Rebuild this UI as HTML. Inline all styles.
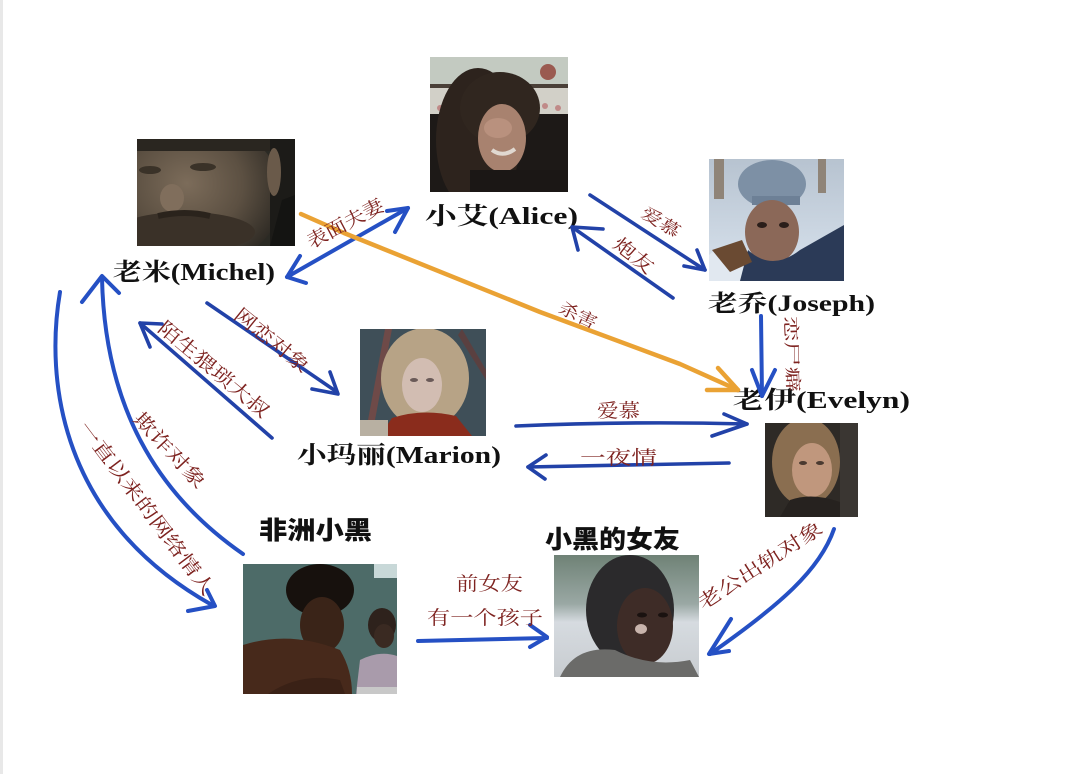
<!DOCTYPE html>
<html><head><meta charset="utf-8">
<style>
html,body{margin:0;padding:0;background:#fff;}
body{width:1080px;height:774px;overflow:hidden;}
svg{display:block;}
.nm{font-family:"Liberation Serif","Noto Serif CJK SC",serif;font-weight:bold;fill:#111;}
.ns{font-family:"Noto Sans CJK SC","WenQuanYi Zen Hei",sans-serif;font-weight:900;fill:#111;}
.rl{font-family:"Noto Serif CJK SC","Liberation Serif",serif;fill:#7e2320;}
.bl{fill:none;stroke:#2550c4;stroke-width:4;stroke-linecap:round;stroke-linejoin:round;}
.bd{fill:none;stroke:#2242a8;stroke-width:3.6;stroke-linecap:round;stroke-linejoin:round;}
.or{fill:none;stroke:#eaa234;stroke-width:4.5;stroke-linecap:round;stroke-linejoin:round;}
</style></head>
<body>
<svg width="1080" height="774" viewBox="0 0 1080 774" xmlns="http://www.w3.org/2000/svg">
<defs>
<clipPath id="cA"><rect x="430" y="57" width="138" height="135"/></clipPath>
<clipPath id="cM"><rect x="137" y="139" width="158" height="107"/></clipPath>
<clipPath id="cJ"><rect x="709" y="159" width="135" height="122"/></clipPath>
<clipPath id="cR"><rect x="360" y="329" width="126" height="107"/></clipPath>
<clipPath id="cE"><rect x="765" y="423" width="93" height="94"/></clipPath>
<clipPath id="cB"><rect x="243" y="564" width="154" height="130"/></clipPath>
<clipPath id="cG"><rect x="554" y="555" width="145" height="122"/></clipPath>
<radialGradient id="gMf" cx="0.42" cy="0.42" r="0.62"><stop offset="0" stop-color="#7c6c5a"/><stop offset="0.55" stop-color="#5c5042"/><stop offset="1" stop-color="#2e2a24"/></radialGradient>
<linearGradient id="gJbg" x1="0" y1="0" x2="0" y2="1"><stop offset="0" stop-color="#b7c3d0"/><stop offset="1" stop-color="#d9e3ee"/></linearGradient>
<linearGradient id="gGbg" x1="0" y1="0" x2="0" y2="1"><stop offset="0" stop-color="#6f8276"/><stop offset="0.4" stop-color="#9aa8a4"/><stop offset="0.55" stop-color="#d6dbe0"/><stop offset="1" stop-color="#c8ccd0"/></linearGradient>
</defs>
<rect x="0" y="0" width="1080" height="774" fill="#fff"/>
<rect x="0" y="0" width="3" height="774" fill="#e8e8e8"/>

<!-- Alice photo -->
<g clip-path="url(#cA)">
<rect x="430" y="57" width="138" height="135" fill="#1d1917"/>
<rect x="430" y="57" width="138" height="27" fill="#c3cac1"/>
<rect x="430" y="84" width="138" height="4" fill="#4a4038"/>
<rect x="430" y="88" width="138" height="26" fill="#d2d0c8"/>
<circle cx="548" cy="72" r="8" fill="#9a5a50"/>
<circle cx="545" cy="106" r="3" fill="#c08a88"/><circle cx="532" cy="108" r="3" fill="#c08a88"/><circle cx="558" cy="108" r="3" fill="#c08a88"/><circle cx="440" cy="108" r="3" fill="#c08a88"/>
<ellipse cx="478" cy="140" rx="42" ry="72" fill="#2d231d"/>
<ellipse cx="500" cy="108" rx="40" ry="36" fill="#30261f"/>
<ellipse cx="502" cy="138" rx="24" ry="34" fill="#a8826f"/>
<ellipse cx="498" cy="128" rx="14" ry="10" fill="#b9917e"/>
<path d="M492 150 Q503 158 515 149" stroke="#e0d8d0" stroke-width="4" fill="none"/>
<rect x="470" y="170" width="98" height="22" fill="#1b1715"/>
</g>

<!-- Michel photo -->
<g clip-path="url(#cM)">
<rect x="137" y="139" width="158" height="107" fill="#2b2a24"/>
<ellipse cx="200" cy="195" rx="82" ry="72" fill="url(#gMf)"/>
<rect x="137" y="139" width="150" height="12" fill="#2a2620"/>
<ellipse cx="150" cy="170" rx="11" ry="4" fill="#3a3228"/>
<ellipse cx="203" cy="167" rx="13" ry="4" fill="#3a3228"/>
<ellipse cx="172" cy="198" rx="12" ry="14" fill="#806e5c"/>
<ellipse cx="185" cy="232" rx="70" ry="20" fill="#3a3128"/>
<path d="M158 216 Q185 210 210 216" stroke="#2a231c" stroke-width="6" fill="none"/>
<rect x="270" y="139" width="25" height="107" fill="#1c1b18"/>
<ellipse cx="274" cy="172" rx="7" ry="24" fill="#6a5a4a"/>
<path d="M270 246 L282 200 L295 195 L295 246 Z" fill="#141412"/>
</g>

<!-- Joseph photo -->
<g clip-path="url(#cJ)">
<rect x="709" y="159" width="135" height="122" fill="url(#gJbg)"/>
<rect x="714" y="159" width="10" height="40" fill="#8f8478"/>
<rect x="818" y="159" width="8" height="34" fill="#8f8478"/>
<ellipse cx="772" cy="184" rx="34" ry="24" fill="#7d90a5"/>
<rect x="752" y="196" width="48" height="9" fill="#6d8096"/>
<ellipse cx="772" cy="232" rx="27" ry="32" fill="#8b6858"/>
<ellipse cx="762" cy="225" rx="5" ry="3" fill="#2a1e1a"/><ellipse cx="784" cy="225" rx="5" ry="3" fill="#2a1e1a"/>
<path d="M730 281 L748 250 Q772 272 800 250 L844 225 L844 281 Z" fill="#2b3a57"/>
<path d="M709 281 L709 255 Q725 240 748 250 L740 281 Z" fill="#e1e8f0"/>
<path d="M712 250 L742 240 L752 262 L730 272 Z" fill="#6a4a32"/>
</g>

<!-- Marion photo -->
<g clip-path="url(#cR)">
<rect x="360" y="329" width="126" height="107" fill="#3f4f58"/>
<path d="M365 436 L385 329 L392 329 L372 436 Z" fill="#6e4a48"/>
<path d="M462 329 L486 370 L486 380 L458 335 Z" fill="#5a4040"/>
<ellipse cx="425" cy="378" rx="44" ry="50" fill="#b7a386"/>
<ellipse cx="422" cy="385" rx="20" ry="27" fill="#d2bdb2"/>
<ellipse cx="414" cy="380" rx="4" ry="2" fill="#6a5a58"/><ellipse cx="430" cy="380" rx="4" ry="2" fill="#6a5a58"/>
<path d="M380 436 L392 418 Q422 408 456 416 L472 436 Z" fill="#8a2c1c"/>
<rect x="360" y="420" width="28" height="16" fill="#b8b0a2"/>
</g>

<!-- Evelyn photo -->
<g clip-path="url(#cE)">
<rect x="765" y="423" width="93" height="94" fill="#2e2a26"/>
<ellipse cx="806" cy="462" rx="34" ry="44" fill="#8a6e50"/>
<ellipse cx="812" cy="470" rx="20" ry="27" fill="#c0977d"/>
<ellipse cx="803" cy="463" rx="4" ry="2" fill="#4a3a30"/><ellipse cx="820" cy="463" rx="4" ry="2" fill="#4a3a30"/>
<path d="M780 517 L790 500 Q812 492 840 502 L850 517 Z" fill="#26221f"/>
<rect x="840" y="423" width="18" height="94" fill="#3a3632"/>
</g>

<!-- Black guy photo -->
<g clip-path="url(#cB)">
<rect x="243" y="564" width="154" height="130" fill="#4d6b68"/>
<rect x="374" y="564" width="23" height="14" fill="#c8d8d8"/>
<ellipse cx="320" cy="590" rx="34" ry="26" fill="#17110d"/>
<ellipse cx="322" cy="625" rx="22" ry="28" fill="#3a2418"/>
<path d="M243 694 L243 645 Q290 630 340 650 Q352 670 352 694 Z" fill="#47291b"/>
<path d="M268 694 Q300 672 340 680 L345 694 Z" fill="#3a2116"/>
<ellipse cx="382" cy="625" rx="14" ry="17" fill="#2e221c"/>
<ellipse cx="384" cy="636" rx="10" ry="12" fill="#3a2a22"/>
<path d="M356 694 L360 660 Q380 650 397 656 L397 694 Z" fill="#a99bab"/>
<rect x="357" y="687" width="40" height="7" fill="#c8c8c8"/>
</g>

<!-- Girlfriend photo -->
<g clip-path="url(#cG)">
<rect x="554" y="555" width="145" height="122" fill="url(#gGbg)"/>
<ellipse cx="630" cy="610" rx="44" ry="55" fill="#2b2a2c"/>
<ellipse cx="645" cy="626" rx="28" ry="38" fill="#3e2c27"/>
<ellipse cx="642" cy="615" rx="5" ry="2.5" fill="#1a1210"/><ellipse cx="663" cy="615" rx="5" ry="2.5" fill="#1a1210"/>
<ellipse cx="641" cy="629" rx="6" ry="5" fill="#c8b4ac"/>
<path d="M560 677 Q575 645 615 650 Q650 668 690 660 L699 677 Z" fill="#6b6b69"/>
</g>

<!-- Name labels -->
<text class="nm" x="113" y="280" font-size="24" textLength="162" lengthAdjust="spacingAndGlyphs">老米(Michel)</text>
<text class="nm" x="425" y="224" font-size="24" textLength="153" lengthAdjust="spacingAndGlyphs">小艾(Alice)</text>
<text class="nm" x="708" y="311" font-size="23" textLength="167" lengthAdjust="spacingAndGlyphs">老乔(Joseph)</text>
<text class="nm" x="733" y="408" font-size="24" textLength="177" lengthAdjust="spacingAndGlyphs">老伊(Evelyn)</text>
<text class="nm" x="297" y="463" font-size="24" textLength="204" lengthAdjust="spacingAndGlyphs">小玛丽(Marion)</text>
<text class="ns" x="259" y="539" font-size="25" textLength="113" lengthAdjust="spacingAndGlyphs">非洲小黑</text>
<text class="ns" x="545" y="548" font-size="25" textLength="135" lengthAdjust="spacingAndGlyphs">小黑的女友</text>

<!-- Connectors -->
<path class="bl" d="M287 277 L408 208"/>
<path class="bl" d="M387 211 L408 208 L395 232"/>
<path class="bl" d="M300 256 L287 277 L306 283"/>
<path class="or" d="M301 214 L344 233 L540 312 L680 364 L738 390"/>
<path class="or" d="M718 368 L738 390 L707 390"/>
<path class="bd" d="M590 195 L705 270"/>
<path class="bd" d="M697 250 L705 270 L684 266"/>
<path class="bd" d="M673 298 L572 227"/>
<path class="bd" d="M603 229 L572 227 L578 250"/>
<path class="bl" d="M761 316 L762 396"/>
<path class="bl" d="M752 370 L762 396 L775 370"/>
<path class="bd" d="M207 303 L337 392"/>
<path class="bd" d="M312 389 L338 394 L330 372"/>
<path class="bd" d="M272 438 L140 323"/>
<path class="bd" d="M162 324 L140 323 L150 347"/>
<path class="bl" d="M243 554 C168 502 105 420 102 278"/>
<path class="bl" d="M82 302 L102 276 L119 293"/>
<path class="bl" d="M60 292 C45 380 60 520 212 605"/>
<path class="bl" d="M207 590 L215 606 L188 611"/>
<path class="bd" d="M516 426 Q630 421 747 424"/>
<path class="bd" d="M724 414 L747 424 L712 436"/>
<path class="bd" d="M729 463 L528 467"/>
<path class="bd" d="M546 455 L528 467 L545 479"/>
<path class="bl" d="M418 641 L547 638"/>
<path class="bl" d="M530 625 L547 637 L530 647"/>
<path class="bl" d="M834 529 C820 570 780 605 710 654"/>
<path class="bl" d="M731 619 L709 654 L729 651"/>

<!-- Relationship labels -->
<g transform="translate(345 223) rotate(-28)"><text class="rl" x="-42" y="7" font-size="19" textLength="84" lengthAdjust="spacingAndGlyphs">表面夫妻</text></g>
<g transform="translate(578 315) rotate(25)"><text class="rl" x="-20" y="6" font-size="17" textLength="40" lengthAdjust="spacingAndGlyphs">杀害</text></g>
<g transform="translate(661 222) rotate(32)"><text class="rl" x="-21" y="6" font-size="17" textLength="42" lengthAdjust="spacingAndGlyphs">爱慕</text></g>
<g transform="translate(634 255) rotate(38)"><text class="rl" x="-23" y="7" font-size="19" textLength="46" lengthAdjust="spacingAndGlyphs">炮友</text></g>
<g transform="translate(792 354) rotate(88)"><text class="rl" x="-38" y="6" font-size="17" textLength="76" lengthAdjust="spacingAndGlyphs">恋尸癖</text></g>
<g transform="translate(272 340) rotate(39)"><text class="rl" x="-45" y="7" font-size="19" textLength="90" lengthAdjust="spacingAndGlyphs">网恋对象</text></g>
<g transform="translate(214 369) rotate(40)"><text class="rl" x="-69" y="7" font-size="19" textLength="138" lengthAdjust="spacingAndGlyphs">陌生猥琐大叔</text></g>
<g transform="translate(170 450) rotate(47)"><text class="rl" x="-48" y="7" font-size="19" textLength="96" lengthAdjust="spacingAndGlyphs">欺诈对象</text></g>
<g transform="translate(147 508) rotate(53)"><text class="rl" x="-106" y="7" font-size="19" textLength="212" lengthAdjust="spacingAndGlyphs">一直以来的网络情人</text></g>
<text class="rl" x="597" y="417" font-size="19" textLength="43" lengthAdjust="spacingAndGlyphs">爱慕</text>
<text class="rl" x="580" y="464" font-size="19" textLength="77" lengthAdjust="spacingAndGlyphs">一夜情</text>
<text class="rl" x="456" y="590" font-size="19" textLength="67" lengthAdjust="spacingAndGlyphs">前女友</text>
<text class="rl" x="427" y="624" font-size="19" textLength="116" lengthAdjust="spacingAndGlyphs">有一个孩子</text>
<g transform="translate(760 565) rotate(-33)"><text class="rl" x="-72" y="7" font-size="19" textLength="144" lengthAdjust="spacingAndGlyphs">老公出轨对象</text></g>
</svg>
</body></html>
